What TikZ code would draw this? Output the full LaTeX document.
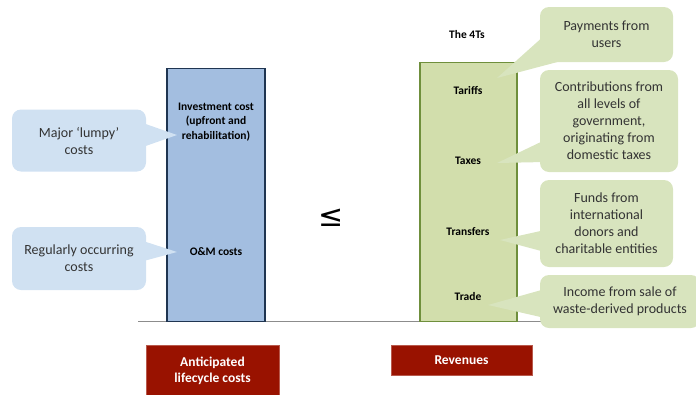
\documentclass[tikz,border=0pt]{standalone}
\usepackage{fontspec}
\setmainfont{Carlito}
\newfontfamily\symfont{DejaVu Sans}
\begin{document}
\begin{tikzpicture}[x=1pt,y=-1pt,
  costbar/.style={draw=barblueline,fill=barblue,line width=1.8pt},
  revbar/.style={draw=bargreenline,fill=bargreen,line width=1.8pt},
  bartext/.style={font=\fontsize{11.5}{14.5}\selectfont\bfseries,align=center,text=black},
  bluecall/.style={fill=callblue,rounded corners=9pt,align=center,font=\fontsize{14}{17}\selectfont,text=darktext,inner sep=0pt},
  greencall/.style={fill=callgreen,rounded corners=9pt,align=center,font=\fontsize{14}{17}\selectfont,text=darktext,inner sep=0pt},
  redbox/.style={fill=boxred,draw=boxred!70!white,line width=0.4pt,align=center,text=white,font=\fontsize{13.5}{16.5}\selectfont\bfseries,inner sep=0pt},
]
\definecolor{barblue}{HTML}{A3BEE0}
\definecolor{barblueline}{HTML}{1F3551}
\definecolor{bargreen}{HTML}{D2DEAC}
\definecolor{bargreenline}{HTML}{6F8F3C}
\definecolor{callblue}{HTML}{D0E1F2}
\definecolor{callgreen}{HTML}{D8E4BE}
\definecolor{boxred}{HTML}{991200}
\definecolor{darktext}{HTML}{333333}
\definecolor{axisgray}{HTML}{8C8C8C}
\useasboundingbox (0,0) rectangle (696,394);

% baseline
\coordinate (axL) at (138,321.5);
\coordinate (axR) at (560,321.5);
\draw[axisgray,line width=1.4pt] (axL) -- (axR);

% bars
\node[costbar,minimum width=98pt,minimum height=253pt,inner sep=0pt] (cost) at (216,195) {};
\node[revbar,minimum width=97pt,minimum height=259pt,inner sep=0pt] (rev) at (468.5,192) {};

% bar texts
\node[bartext] (inv) at (216,122) {Investment cost\\(upfront and\\rehabilitation)};
\node[bartext] (om) at (216,252) {O\&M costs};
\node[bartext] (t4) at (467,35) {The 4Ts};
\node[bartext] (tar) at (468,90) {Tariffs};
\node[bartext] (tax) at (468,161) {Taxes};
\node[bartext] (tra) at (468,232) {Transfers};
\node[bartext] (trd) at (468,297) {Trade};

% less or equal
\node (leq) at (331,218) {\symfont\fontsize{30}{32}\selectfont ≤};

% left callouts
\coordinate (p1) at (177,135);
\coordinate (p2) at (177,252);
\fill[callblue] (140,122) -- (p1) -- (140,148) -- cycle;
\fill[callblue] (140,240) -- (p2) -- (140,262) -- cycle;
\node[bluecall,minimum width=134pt,minimum height=62pt] (c1) at (79,140.5) {Major ‘lumpy’\\costs};
\node[bluecall,minimum width=134pt,minimum height=63pt] (c2) at (79,258.5) {Regularly occurring\\costs};

% right callouts
\coordinate (q1) at (497,78);
\coordinate (q2) at (497,163);
\coordinate (q3) at (500,240);
\coordinate (q4) at (488,305);
\fill[callgreen] (545,35) -- (q1) -- (565,60) -- cycle;
\fill[callgreen] (545,140) -- (q2) -- (545,162) -- cycle;
\fill[callgreen] (545,230) -- (q3) -- (545,252) -- cycle;
\fill[callgreen] (545,289) -- (q4) -- (545,318) -- cycle;
\node[greencall,minimum width=133pt,minimum height=55pt] (g1) at (606.5,34.5) {Payments from\\users};
\node[greencall,minimum width=138pt,minimum height=102pt] (g2) at (609,121) {Contributions from\\all levels of\\government,\\originating from\\domestic taxes};
\node[greencall,minimum width=133pt,minimum height=87pt] (g3) at (606.5,223.5) {Funds from\\international\\donors and\\charitable entities};
\node[greencall,minimum width=160pt,minimum height=53pt] (g4) at (620,301.5) {Income from sale of\\waste-derived products};

% red boxes
\node[redbox,minimum width=133pt,minimum height=52pt] (ant) at (212.5,371) {Anticipated\\lifecycle costs};
\node[redbox,minimum width=141pt,minimum height=30pt] (revb) at (461.5,360) {Revenues};
\end{tikzpicture}
\end{document}
